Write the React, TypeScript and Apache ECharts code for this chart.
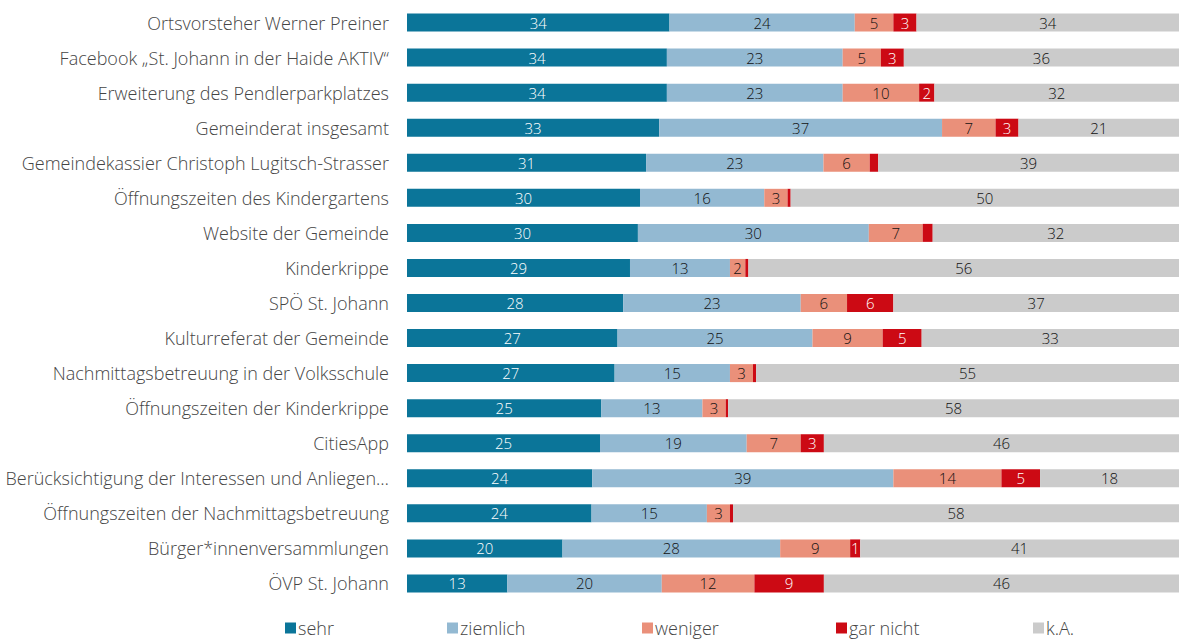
import React, { useEffect, useRef } from "react";
import * as echarts from "echarts";

const categories = [
  "Ortsvorsteher Werner Preiner",
  "Facebook „St. Johann in der Haide AKTIV“",
  "Erweiterung des Pendlerparkplatzes",
  "Gemeinderat insgesamt",
  "Gemeindekassier Christoph Lugitsch-Strasser",
  "Öffnungszeiten des Kindergartens",
  "Website der Gemeinde",
  "Kinderkrippe",
  "SPÖ St. Johann",
  "Kulturreferat der Gemeinde",
  "Nachmittagsbetreuung in der Volksschule",
  "Öffnungszeiten der Kinderkrippe",
  "CitiesApp",
  "Berücksichtigung der Interessen und Anliegen…",
  "Öffnungszeiten der Nachmittagsbetreuung",
  "Bürger*innenversammlungen",
  "ÖVP St. Johann",
];

const sehr = [34, 34, 34, 33, 31, 30, 30, 29, 28, 27, 27, 25, 25, 24, 24, 20, 13];
const ziemlich = [24, 23, 23, 37, 23, 16, 30, 13, 23, 25, 15, 13, 19, 39, 15, 28, 20];
const weniger = [5, 5, 10, 7, 6, 3, 7, 2, 6, 9, 3, 3, 7, 14, 3, 9, 12];
const garNicht = [3, 3, 2, 3, 1.1, 0.4, 1.3, 0.4, 6, 5, 0.4, 0.3, 3, 5, 0.4, 1.3, 9];
const garNichtLabels = ["3", "3", "2", "3", "", "", "", "", "6", "5", "", "", "3", "5", "", "1", "9"];
const ka = [34, 36, 32, 21, 39, 50, 32, 56, 37, 33, 55, 58, 46, 18, 58, 41, 46];

const seriesNames = ["sehr", "ziemlich", "weniger", "gar nicht", "k.A."];
const colors = ["#0B7599", "#93B9D2", "#EA907A", "#CC0A14", "#CBCBCB"];
const labelColors = ["#FFFFFF", "#111111", "#111111", "#FFFFFF", "#111111"];
const legendLeft = [285, 447, 642, 836, 1033];

const FONT = "'Open Sans', Lato, sans-serif";

export default function App() {
  const ref = useRef<HTMLDivElement>(null);
  useEffect(() => {
    document.body.style.margin = "0";
    if (!ref.current) return;
    const chart = echarts.init(ref.current, undefined, { renderer: "svg" });
    const all = [sehr, ziemlich, weniger, garNicht, ka];
    const totals = categories.map((_, i) => all.reduce((s, arr) => s + arr[i], 0));

    const series = all.map((arr, si) => ({
      name: seriesNames[si],
      type: "bar",
      stack: "total",
      barWidth: 18,
      itemStyle: { color: colors[si] },
      label: {
        show: true,
        position: "inside",
        color: labelColors[si],
        fontSize: 15,
        fontFamily: FONT,
        fontWeight: 300,
        formatter: (p: any) => {
          if (si === 3) return garNichtLabels[p.dataIndex];
          const v = arr[p.dataIndex];
          return v >= 1.5 ? String(Math.round(v)) : "";
        },
      },
      data: arr.map((v, i) => (v / totals[i]) * 100),
    }));

    chart.setOption({
      animation: false,
      textStyle: { fontFamily: FONT },
      grid: { left: 407, right: -11, top: 5, bottom: 38, containLabel: false },
      xAxis: {
        type: "value",
        min: 0,
        max: 100,
        show: false,
      },
      yAxis: {
        type: "category",
        inverse: true,
        data: categories,
        axisLine: { show: false },
        axisTick: { show: false },
        splitLine: { show: false },
        axisLabel: {
          margin: 18,
          color: "#454545",
          fontSize: 18,
          fontWeight: 300,
          fontFamily: FONT,
        },
      },
      legend: seriesNames.map((n, i) => ({
        data: [n],
        left: legendLeft[i],
        top: 619,
        itemWidth: 11,
        itemHeight: 11,
        itemGap: 4,
        padding: 0,
        icon: "rect",
        textStyle: {
          color: "#454545",
          fontSize: 18,
          lineHeight: 18,
          fontWeight: 300,
          fontFamily: FONT,
          padding: [0, 0, 0, -3],
        },
      })),
      series,
    });
    return () => chart.dispose();
  }, []);
  return (
    <div
      ref={ref}
      style={{ position: "absolute", left: 0, top: 0, width: 1179, height: 639 }}
    />
  );
}
